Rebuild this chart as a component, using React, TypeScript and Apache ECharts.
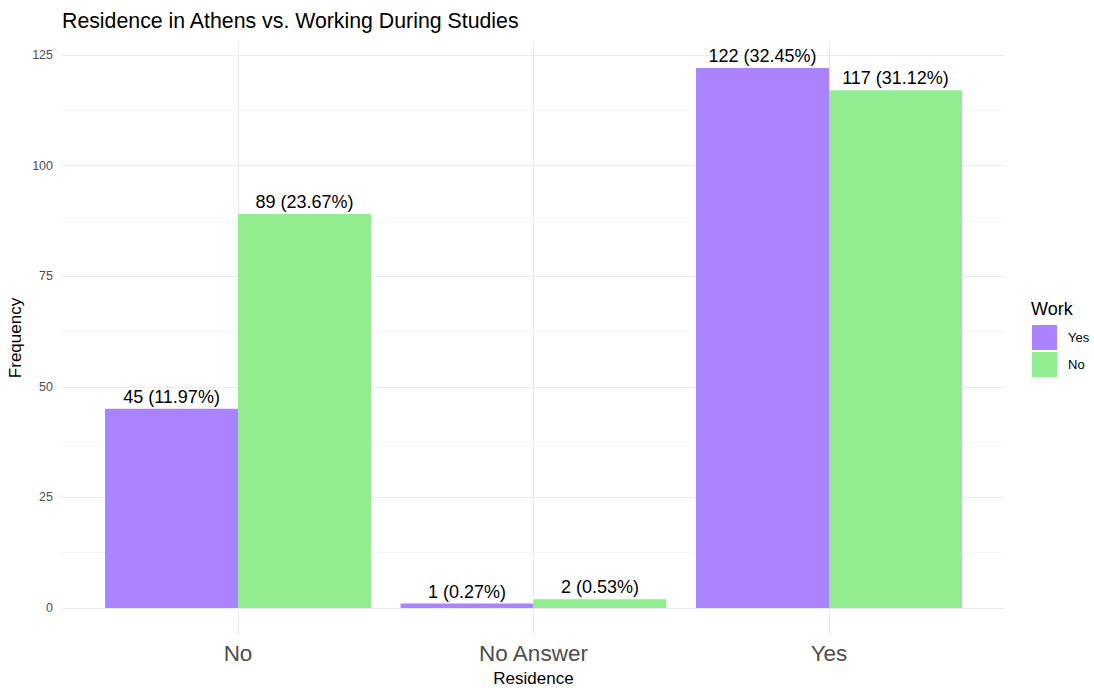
import React, { useEffect, useRef } from "react";
import * as echarts from "echarts";

const categories = ["No", "No Answer", "Yes"];
const workYes = [45, 1, 122];
const workNo = [89, 2, 117];
const seriesNames = ["Yes", "No"];
const yTicks = { min: 0, max: 125, interval: 25 };

const FONT = "Liberation Sans, Arial, sans-serif";
const PURPLE = "#AB82FF";
const GREEN = "#90EE90";
const GRID_COLOR = "#EBEBEB";

export default function App() {
  const ref = useRef<HTMLDivElement>(null);
  useEffect(() => {
    if (!ref.current) return;
    const chart = echarts.init(ref.current, null, { renderer: "svg" });
    const total = [...workYes, ...workNo].reduce((a, b) => a + b, 0);
    const fmt = (p: any) => `${p.value} (${((p.value / total) * 100).toFixed(2)}%)`;
    const barLabel = {
      show: true,
      position: "top",
      distance: 3,
      formatter: fmt,
      color: "#000",
      fontSize: 18,
      fontFamily: FONT,
    };
    chart.setOption({
      animation: false,
      textStyle: { fontFamily: FONT },
      title: [
        {
          text: "Residence in Athens vs. Working During Studies",
          left: 57,
          top: 5,
          textStyle: { fontSize: 21.3, fontWeight: "normal", color: "#000", fontFamily: FONT },
        },
        {
          text: "Work",
          left: 1026,
          top: 295,
          textStyle: { fontSize: 18, fontWeight: "normal", color: "#000", fontFamily: FONT },
        },
      ],
      legend: {
        data: seriesNames,
        orient: "vertical",
        left: 1027,
        top: 320,
        itemWidth: 25,
        itemHeight: 25,
        itemGap: 2,
        icon: "rect",
        textStyle: { fontSize: 13, color: "#000", fontFamily: FONT, padding: [0, 0, 0, 6] },
      },
      grid: [
        { left: 90.25, right: 117.25, top: 41, bottom: 53, outerBoundsMode: "none", containLabel: false },
        { left: 62, right: 89, top: 55, bottom: 80, outerBoundsMode: "none", containLabel: false },
      ],
      xAxis: [
        {
          type: "category",
          gridIndex: 0,
          data: categories,
          axisLine: { show: false },
          axisTick: { show: false },
          splitLine: { show: false },
          axisLabel: { fontSize: 22.5, color: "#4D4D4D", margin: 7, fontFamily: FONT },
          name: "Residence",
          nameLocation: "middle",
          nameGap: 35,
          nameTextStyle: { fontSize: 17, color: "#000", fontFamily: FONT },
        },
        { type: "value", gridIndex: 1, show: false, min: 0, max: 1 },
      ],
      yAxis: [
        {
          type: "value",
          gridIndex: 0,
          min: -6.1,
          max: 128.1,
          axisLine: { show: false },
          axisTick: { show: false },
          axisLabel: { show: false },
          splitLine: { show: false },
          name: "Frequency",
          nameLocation: "middle",
          nameGap: 66,
          nameRotate: 90,
          nameTextStyle: { fontSize: 17, color: "#000", fontFamily: FONT },
        },
        {
          type: "value",
          gridIndex: 1,
          min: yTicks.min,
          max: yTicks.max,
          interval: yTicks.interval,
          axisLine: { show: false },
          axisTick: { show: false },
          axisLabel: { fontSize: 12.5, color: "#4D4D4D", margin: 9, fontFamily: FONT },
          splitLine: { show: true, lineStyle: { color: GRID_COLOR, width: 1 } },
          minorTick: { show: false, splitNumber: 2 },
          minorSplitLine: { show: true, lineStyle: { color: "#F2F2F2", width: 0.7 } },
        },
      ],
      series: [
        {
          type: "line",
          xAxisIndex: 0,
          yAxisIndex: 0,
          data: [],
          z: 0,
          silent: true,
          markLine: {
            z: 1,
            silent: true,
            symbol: "none",
            label: { show: false },
            lineStyle: { color: GRID_COLOR, width: 1, type: "solid" },
            data: categories.map((c) => ({ xAxis: c })),
          },
        },
        {
          name: seriesNames[0],
          type: "bar",
          xAxisIndex: 0,
          yAxisIndex: 0,
          data: workYes,
          barGap: "0%",
          barCategoryGap: "10%",
          itemStyle: { color: PURPLE },
          label: barLabel,
          z: 2,
        },
        {
          name: seriesNames[1],
          type: "bar",
          xAxisIndex: 0,
          yAxisIndex: 0,
          data: workNo,
          barGap: "0%",
          barCategoryGap: "10%",
          itemStyle: { color: GREEN },
          label: barLabel,
          z: 2,
        },
      ],
    });
    return () => chart.dispose();
  }, []);
  return (
    <div
      ref={ref}
      style={{ position: "fixed", left: 0, top: 0, width: 1094, height: 688, background: "#fff" }}
    />
  );
}
